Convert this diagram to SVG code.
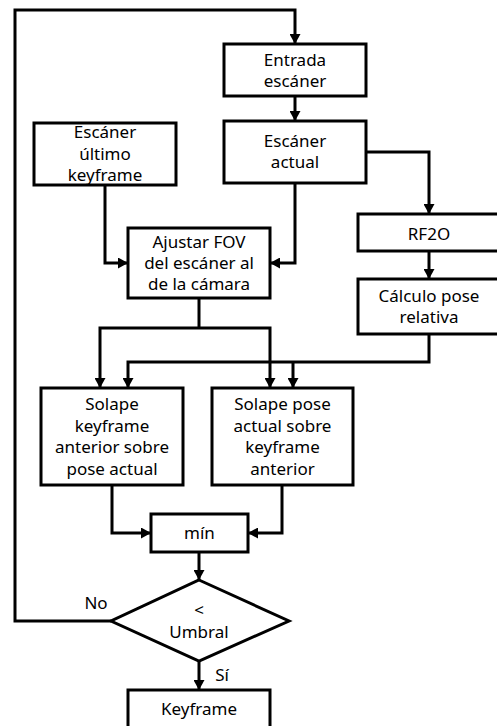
<svg xmlns="http://www.w3.org/2000/svg" width="497" height="726" viewBox="0 0 497 726">
<style>
.box{fill:#fff;stroke:#000;stroke-width:3}
.ln{fill:none;stroke:#000;stroke-width:3;stroke-linejoin:miter}
.ar{marker-end:url(#ah)}
text{font-family:"Noto Sans","Open Sans",sans-serif;font-size:17px;fill:#000;text-anchor:middle}
</style>
<defs>
<marker id="ah" markerUnits="userSpaceOnUse" markerWidth="11" markerHeight="11" refX="10" refY="5.5" orient="auto">
<path d="M0,0 L10,5.5 L0,11 z" fill="#000"/>
</marker>
</defs>
<rect width="497" height="726" fill="#fff"/>
<g id="connectors">
<polyline class="ln ar" points="111,621 15,621 15,10 295,10 295,44"/>
<polyline class="ln ar" points="295,96 295,121"/>
<polyline class="ln ar" points="366,152 429,152 429,214"/>
<polyline class="ln ar" points="295,183 295,263 270,263"/>
<polyline class="ln ar" points="105,185 105,263 128,263"/>
<polyline class="ln ar" points="429,251 429,279"/>
<polyline class="ln" points="199,298 199,328"/>
<polyline class="ln ar" points="199,328 100,328 100,388"/>
<polyline class="ln ar" points="199,328 270,328 270,388"/>
<polyline class="ln ar" points="429,334 429,362 128,362 128,388"/>
<polyline class="ln ar" points="293,362 293,388"/>
<polyline class="ln ar" points="112,485 112,533 151,533"/>
<polyline class="ln ar" points="282,485 282,533 248,533"/>
<polyline class="ln ar" points="199,552 199,580"/>
<polyline class="ln ar" points="199,661 199,690"/>
<text x="96" y="609">No</text>
<text x="222" y="681">Sí</text>
</g>
<g id="entrada">
<rect class="box" x="224" y="44" width="142" height="52"/>
<text x="295" y="66">Entrada</text>
<text x="295" y="87">escáner</text>
</g>
<g id="escaner-actual">
<rect class="box" x="224" y="121" width="142" height="62"/>
<text x="295" y="147">Escáner</text>
<text x="295" y="168">actual</text>
</g>
<g id="escaner-ultimo">
<rect class="box" x="34" y="123" width="142" height="62"/>
<text x="105" y="138">Escáner</text>
<text x="105" y="160">último</text>
<text x="105" y="181">keyframe</text>
</g>
<g id="ajustar">
<rect class="box" x="128" y="228" width="142" height="70"/>
<text x="199" y="248">Ajustar FOV</text>
<text x="199" y="269">del escáner al</text>
<text x="199" y="290">de la cámara</text>
</g>
<g id="rf2o">
<rect class="box" x="358" y="214" width="142" height="37"/>
<text x="429" y="240">RF2O</text>
</g>
<g id="calculo">
<rect class="box" x="358" y="279" width="142" height="55"/>
<text x="429" y="302">Cálculo pose</text>
<text x="429" y="323">relativa</text>
</g>
<g id="solape-kf">
<rect class="box" x="41" y="388" width="142" height="97"/>
<text x="112" y="410">Solape</text>
<text x="112" y="431.5">keyframe</text>
<text x="112" y="453">anterior sobre</text>
<text x="112" y="474.5">pose actual</text>
</g>
<g id="solape-pose">
<rect class="box" x="212" y="388" width="141" height="97"/>
<text x="282.5" y="410">Solape pose</text>
<text x="282.5" y="431.5">actual sobre</text>
<text x="282.5" y="453">keyframe</text>
<text x="282.5" y="474.5">anterior</text>
</g>
<g id="min">
<rect class="box" x="151" y="514" width="97" height="38"/>
<text x="199.5" y="539">mín</text>
</g>
<g id="umbral">
<polygon class="box" points="199,580 289,621 199,661 111,621"/>
<text x="199" y="616">&lt;</text>
<text x="199" y="638">Umbral</text>
</g>
<g id="keyframe">
<rect class="box" x="128" y="690" width="142" height="40"/>
<text x="199" y="715">Keyframe</text>
</g>
</svg>
